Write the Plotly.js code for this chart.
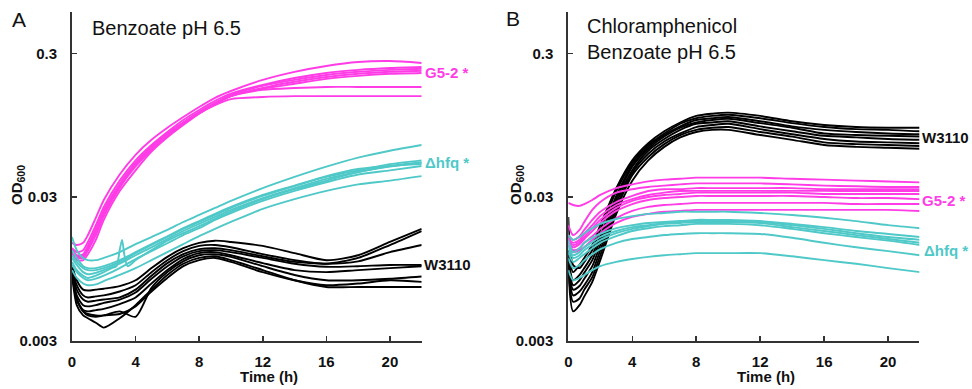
<!DOCTYPE html>
<html><head><meta charset="utf-8">
<script src="https://cdn.plot.ly/plotly-3.0.1.min.js"></script>
<style>html,body{margin:0;padding:0;background:#fff}#chart{width:972px;height:389px}</style>
</head><body><div id="chart"></div>
<script>
// Time points (h)
const timeH = [0, 0.3, 0.7, 1, 1.5, 2, 3, 4, 5, 6, 7, 8, 9, 10, 12, 14, 16, 18, 20, 22];
const timeSpike = [0, 0.3, 0.7, 1, 1.5, 2, 2.5, 2.8, 3.0, 3.15, 3.3, 3.5, 4, 5, 6, 7, 8, 9, 10, 12, 14, 16, 18, 20, 22];

// Panel A: Benzoate pH 6.5 — OD600
const A_G52 = [
  [0.0144, 0.0139, 0.0144, 0.0163, 0.0215, 0.0286, 0.043, 0.059, 0.075, 0.091, 0.108, 0.127, 0.147, 0.164, 0.196, 0.223, 0.245, 0.261, 0.265, 0.257],
  [0.0132, 0.0124, 0.0128, 0.0146, 0.0191, 0.0256, 0.039, 0.054, 0.069, 0.085, 0.103, 0.121, 0.140, 0.157, 0.181, 0.202, 0.219, 0.230, 0.237, 0.241],
  [0.0128, 0.0116, 0.0118, 0.0134, 0.0177, 0.0236, 0.036, 0.051, 0.067, 0.083, 0.099, 0.117, 0.135, 0.154, 0.178, 0.196, 0.212, 0.223, 0.230, 0.234],
  [0.0124, 0.0113, 0.0113, 0.0128, 0.0163, 0.0221, 0.035, 0.049, 0.064, 0.080, 0.097, 0.115, 0.133, 0.151, 0.172, 0.190, 0.205, 0.216, 0.223, 0.227],
  [0.0120, 0.0109, 0.0109, 0.0120, 0.0151, 0.0208, 0.033, 0.046, 0.062, 0.078, 0.095, 0.114, 0.133, 0.151, 0.170, 0.184, 0.199, 0.209, 0.216, 0.219],
  [0.0132, 0.0118, 0.0120, 0.0137, 0.0182, 0.0244, 0.037, 0.052, 0.067, 0.083, 0.099, 0.117, 0.135, 0.151, 0.167, 0.172, 0.175, 0.175, 0.175, 0.175],
  [0.0124, 0.0113, 0.0115, 0.0128, 0.0168, 0.0229, 0.035, 0.050, 0.065, 0.080, 0.097, 0.115, 0.131, 0.144, 0.149, 0.151, 0.151, 0.151, 0.151, 0.151]
];
const A_HFQ = [
  [0.0158, 0.0128, 0.0113, 0.0109, 0.0109, 0.0113, 0.0124, 0.0141, 0.0158, 0.0177, 0.0201, 0.0225, 0.0252, 0.0282, 0.0346, 0.0414, 0.0488, 0.0564, 0.063, 0.069],
  [0.0118, 0.0106, 0.0096, 0.0093, 0.0093, 0.0096, 0.0106, 0.0122, 0.0139, 0.0158, 0.0180, 0.0201, 0.0225, 0.0252, 0.0305, 0.0358, 0.0414, 0.046, 0.0508, 0.054],
  [0.0113, 0.0101, 0.0090, 0.0087, 0.0089, 0.0093, 0.0103, 0.0118, 0.0134, 0.0153, 0.0174, 0.0195, 0.0218, 0.0244, 0.0295, 0.0346, 0.0401, 0.0448, 0.0493, 0.0524],
  [0.0101, 0.0090, 0.0082, 0.0079, 0.0081, 0.0085, 0.0096, 0.0111, 0.0126, 0.0143, 0.0163, 0.0182, 0.0208, 0.0232, 0.0282, 0.0331, 0.0380, 0.043, 0.046, 0.0493],
  [0.0093, 0.0082, 0.0075, 0.0073, 0.0074, 0.0078, 0.0086, 0.0096, 0.0109, 0.0124, 0.0141, 0.0160, 0.0180, 0.0201, 0.0248, 0.029, 0.0331, 0.0367, 0.039, 0.0419],
  [0.0128, 0.0113, 0.0099, 0.0096, 0.0096, 0.0099, 0.0109, 0.0124, 0.0141, 0.0160, 0.0182, 0.0204, 0.0229, 0.0256, 0.031, 0.036, 0.0419, 0.047, 0.0493, 0.0508]
];
const A_HFQ_spike = [0.0106, 0.0093, 0.0085, 0.0082, 0.0085, 0.0090, 0.0096, 0.0099, 0.0128, 0.0151, 0.0118, 0.0099, 0.0109, 0.0128, 0.0149, 0.0168, 0.0188, 0.0211, 0.0237, 0.029, 0.034, 0.039, 0.0448, 0.0488, 0.052];
const A_W3110 = [
  [0.0101, 0.0079, 0.0068, 0.0067, 0.0068, 0.0069, 0.0072, 0.0079, 0.0096, 0.0115, 0.0132, 0.0144, 0.0149, 0.0146, 0.0137, 0.0122, 0.0109, 0.0118, 0.0146, 0.0180],
  [0.0096, 0.0073, 0.0062, 0.0060, 0.0061, 0.0062, 0.0066, 0.0073, 0.0090, 0.0109, 0.0126, 0.0137, 0.0139, 0.0134, 0.0120, 0.0109, 0.0103, 0.0113, 0.0139, 0.0174],
  [0.0093, 0.0068, 0.0058, 0.0056, 0.0057, 0.0058, 0.0060, 0.0068, 0.0085, 0.0104, 0.0120, 0.0130, 0.0132, 0.0128, 0.0116, 0.0106, 0.0103, 0.0107, 0.0124, 0.0139],
  [0.0090, 0.0062, 0.0053, 0.0052, 0.0053, 0.0055, 0.0058, 0.0065, 0.0081, 0.0099, 0.0116, 0.0126, 0.0128, 0.0124, 0.0113, 0.0103, 0.0098, 0.0099, 0.0101, 0.0101],
  [0.0086, 0.0058, 0.0049, 0.0048, 0.0049, 0.0050, 0.0054, 0.0060, 0.0075, 0.0093, 0.0111, 0.0122, 0.0124, 0.0118, 0.0104, 0.0093, 0.0090, 0.0093, 0.0096, 0.0099],
  [0.0093, 0.0058, 0.0048, 0.0046, 0.0045, 0.0045, 0.0048, 0.0044, 0.0070, 0.0090, 0.0107, 0.0118, 0.0120, 0.0115, 0.0099, 0.0086, 0.0079, 0.0079, 0.0081, 0.0084],
  [0.0086, 0.0053, 0.0045, 0.0043, 0.0040, 0.0037, 0.0043, 0.0053, 0.0068, 0.0086, 0.0103, 0.0113, 0.0116, 0.0109, 0.0093, 0.0079, 0.0071, 0.0071, 0.0071, 0.0071],
  [0.0093, 0.0059, 0.0048, 0.0045, 0.0044, 0.0045, 0.0046, 0.0052, 0.0066, 0.0082, 0.0099, 0.0109, 0.0113, 0.0106, 0.0090, 0.0079, 0.0073, 0.0075, 0.0079, 0.0077]
];

// Panel B: Chloramphenicol + Benzoate pH 6.5 — OD600
const B_W3110 = [
  [0.0128, 0.0090, 0.0101, 0.0113, 0.0139, 0.0191, 0.0346, 0.054, 0.071, 0.086, 0.099, 0.110, 0.114, 0.116, 0.110, 0.101, 0.095, 0.092, 0.091, 0.091],
  [0.0218, 0.0101, 0.0096, 0.0106, 0.0128, 0.0177, 0.033, 0.052, 0.069, 0.083, 0.097, 0.106, 0.110, 0.112, 0.106, 0.098, 0.092, 0.089, 0.088, 0.086],
  [0.0118, 0.0079, 0.0086, 0.0096, 0.0118, 0.0160, 0.0305, 0.050, 0.067, 0.081, 0.093, 0.103, 0.106, 0.108, 0.101, 0.093, 0.088, 0.085, 0.083, 0.082],
  [0.0113, 0.0073, 0.0079, 0.0089, 0.0109, 0.0151, 0.029, 0.0488, 0.065, 0.079, 0.091, 0.099, 0.103, 0.105, 0.098, 0.091, 0.083, 0.081, 0.080, 0.079],
  [0.0106, 0.0068, 0.0072, 0.0081, 0.0099, 0.0139, 0.0273, 0.046, 0.063, 0.076, 0.088, 0.097, 0.099, 0.101, 0.093, 0.086, 0.080, 0.078, 0.076, 0.075],
  [0.0101, 0.0062, 0.0066, 0.0073, 0.0090, 0.0128, 0.0256, 0.0443, 0.060, 0.073, 0.083, 0.092, 0.095, 0.097, 0.089, 0.082, 0.076, 0.073, 0.072, 0.071],
  [0.0093, 0.0056, 0.0059, 0.0068, 0.0083, 0.0118, 0.0244, 0.0425, 0.057, 0.070, 0.081, 0.088, 0.091, 0.092, 0.085, 0.079, 0.072, 0.070, 0.069, 0.068],
  [0.0090, 0.0048, 0.0053, 0.0061, 0.0077, 0.0109, 0.0229, 0.039, 0.054, 0.067, 0.078, 0.085, 0.088, 0.088, 0.081, 0.075, 0.069, 0.067, 0.066, 0.065]
];
const B_G52 = [
  [0.0273, 0.0264, 0.0260, 0.0268, 0.0286, 0.031, 0.0346, 0.0367, 0.0385, 0.0396, 0.0402, 0.0409, 0.0409, 0.0409, 0.0409, 0.0402, 0.0396, 0.039, 0.0385, 0.0379],
  [0.0191, 0.0163, 0.0177, 0.0201, 0.0244, 0.0277, 0.0322, 0.034, 0.0352, 0.036, 0.0367, 0.0373, 0.0373, 0.0373, 0.0373, 0.0367, 0.036, 0.0356, 0.0352, 0.0352],
  [0.0163, 0.0151, 0.0160, 0.0177, 0.0208, 0.0237, 0.0277, 0.0305, 0.033, 0.034, 0.034, 0.0346, 0.0346, 0.0346, 0.0346, 0.0346, 0.034, 0.034, 0.034, 0.034],
  [0.0156, 0.0144, 0.0151, 0.0166, 0.0191, 0.0221, 0.0264, 0.029, 0.031, 0.0322, 0.033, 0.0331, 0.0331, 0.0331, 0.0331, 0.0331, 0.0331, 0.033, 0.033, 0.033],
  [0.0151, 0.0139, 0.0146, 0.0158, 0.0182, 0.0208, 0.0252, 0.0282, 0.030, 0.031, 0.0315, 0.0322, 0.0322, 0.0322, 0.0322, 0.0322, 0.0315, 0.0315, 0.0315, 0.0315],
  [0.0146, 0.0134, 0.0141, 0.0153, 0.0174, 0.0198, 0.024, 0.0268, 0.0286, 0.0295, 0.030, 0.0305, 0.0305, 0.0305, 0.0305, 0.0305, 0.030, 0.0295, 0.0295, 0.029],
  [0.0141, 0.0128, 0.0132, 0.0144, 0.0160, 0.0180, 0.0214, 0.024, 0.0256, 0.0264, 0.0268, 0.0273, 0.0273, 0.0273, 0.0273, 0.0273, 0.0273, 0.0268, 0.0268, 0.0268],
  [0.0137, 0.0124, 0.0128, 0.0134, 0.0151, 0.0168, 0.0198, 0.0218, 0.0229, 0.0237, 0.024, 0.0244, 0.0244, 0.0244, 0.0244, 0.0244, 0.0244, 0.0244, 0.0244, 0.024]
];
const B_HFQ = [
  [0.0163, 0.0151, 0.0158, 0.0168, 0.0182, 0.0195, 0.0211, 0.0221, 0.0229, 0.0232, 0.0237, 0.0237, 0.0237, 0.0237, 0.0232, 0.0225, 0.0215, 0.0204, 0.0191, 0.0182],
  [0.0151, 0.0124, 0.0132, 0.0144, 0.0156, 0.0166, 0.0182, 0.0191, 0.0198, 0.0201, 0.0204, 0.0208, 0.0208, 0.0208, 0.0204, 0.0195, 0.0185, 0.0174, 0.0166, 0.0158],
  [0.0139, 0.0118, 0.0124, 0.0134, 0.0146, 0.0158, 0.0174, 0.0185, 0.0191, 0.0198, 0.0201, 0.0204, 0.0204, 0.0204, 0.0201, 0.0191, 0.0180, 0.0168, 0.0158, 0.0151],
  [0.0132, 0.0113, 0.0118, 0.0128, 0.0139, 0.0151, 0.0168, 0.0180, 0.0188, 0.0195, 0.0198, 0.0201, 0.0201, 0.0201, 0.0198, 0.0185, 0.0174, 0.0163, 0.0153, 0.0144],
  [0.0124, 0.0106, 0.0113, 0.0120, 0.0132, 0.0144, 0.0160, 0.0174, 0.0182, 0.0188, 0.0191, 0.0195, 0.0195, 0.0195, 0.0191, 0.0180, 0.0168, 0.0158, 0.0149, 0.0139],
  [0.0113, 0.0096, 0.0101, 0.0109, 0.0120, 0.0130, 0.0144, 0.0153, 0.0158, 0.0163, 0.0166, 0.0168, 0.0168, 0.0168, 0.0166, 0.0156, 0.0144, 0.0134, 0.0126, 0.0118],
  [0.0093, 0.0079, 0.0082, 0.0086, 0.0093, 0.0099, 0.0106, 0.0111, 0.0115, 0.0118, 0.0120, 0.0122, 0.0122, 0.0122, 0.0122, 0.0116, 0.0109, 0.0103, 0.0096, 0.0090]
];

const yTickVals = [0.003, 0.03, 0.3];
const yTickText = ['0.003', '0.03', '0.3'];
const xTickVals = [0, 4, 8, 12, 16, 20];

const COL_G52 = '#ff3ce6', COL_HFQ = '#4fc8c8', COL_WT = '#000000';
const FONT = 'Arial, "Liberation Sans", sans-serif';
const W = 972, H = 389;
const px = v => v / W, py = v => 1 - v / H;

const traces = [];
function addGroup(curves, times, color, xa, ya) {
  curves.forEach(c => traces.push({
    x: times, y: c, xaxis: xa, yaxis: ya, type: 'scatter', mode: 'lines',
    line: {color: color, width: 1.9, shape: 'spline', smoothing: 0.7},
    hoverinfo: 'skip', showlegend: false
  }));
}
addGroup(A_W3110, timeH, COL_WT, 'x', 'y');
addGroup(A_G52, timeH, COL_G52, 'x', 'y');
addGroup(A_HFQ, timeH, COL_HFQ, 'x', 'y');
addGroup([A_HFQ_spike], timeSpike, COL_HFQ, 'x', 'y');
addGroup(B_W3110, timeH, COL_WT, 'x2', 'y2');
addGroup(B_G52, timeH, COL_G52, 'x2', 'y2');
addGroup(B_HFQ, timeH, COL_HFQ, 'x2', 'y2');

const yDom = [py(340.7), py(12)];
const yRange = [Math.log10(0.003), Math.log10(0.3) + (53.3 - 12) / 143.7];
function xAx(dom, rng, anchor) {
  return {domain: dom, range: rng, anchor: anchor, tickvals: xTickVals,
    ticktext: xTickVals.map(v => '<b>' + v + '</b>'),
    ticks: 'inside', ticklen: 5, tickwidth: 1.5, tickcolor: '#333',
    showline: true, linecolor: '#333', linewidth: 2, showgrid: false, zeroline: false,
    tickfont: {family: FONT, size: 15, color: '#111'}, ticklabelstandoff: 6, fixedrange: true};
}
function yAx(anchor) {
  return {type: 'log', domain: yDom, range: yRange, anchor: anchor, tickvals: yTickVals,
    ticktext: yTickText.map(v => '<b>' + v + '</b>'),
    ticks: 'inside', ticklen: 5, tickwidth: 1.5, tickcolor: '#333',
    showline: true, linecolor: '#333', linewidth: 2, showgrid: false, zeroline: false,
    tickfont: {family: FONT, size: 15, color: '#111'}, ticklabelstandoff: 10, fixedrange: true};
}

function ann(text, x, y, opts) {
  return Object.assign({text: text, x: px(x), y: py(y), xref: 'paper', yref: 'paper',
    showarrow: false, xanchor: 'left', yanchor: 'middle',
    font: {family: FONT, size: 15, color: '#111'}}, opts || {});
}
const annotations = [
  ann('A', 10, 19, {font: {family: FONT, size: 21, color: '#111'}}),
  ann('B', 504, 18, {font: {family: FONT, size: 21, color: '#111'}}),
  ann('Benzoate pH 6.5', 90, 28, {font: {family: FONT, size: 20, color: '#111'}}),
  ann('Chloramphenicol<br>Benzoate pH 6.5', 585, 39.5, {font: {family: FONT, size: 20, color: '#111'}, align: 'left'}),
  ann('<b>OD<sub>600</sub></b>', 18, 185, {xanchor: 'center', textangle: -90}),
  ann('<b>OD<sub>600</sub></b>', 517, 185, {xanchor: 'center', textangle: -90}),
  ann('<b>Time (h)</b>', 269, 376, {xanchor: 'center'}),
  ann('<b>Time (h)</b>', 766, 376, {xanchor: 'center'}),
  ann('<b>G5-2 *</b>', 423, 72, {font: {family: FONT, size: 15, color: COL_G52}}),
  ann('<b>Δhfq *</b>', 423, 162, {font: {family: FONT, size: 15, color: COL_HFQ}}),
  ann('<b>W3110</b>', 422, 264, {font: {family: FONT, size: 15, color: '#111'}}),
  ann('<b>W3110</b>', 920, 137, {font: {family: FONT, size: 15, color: '#111'}}),
  ann('<b>G5-2 *</b>', 920, 200, {font: {family: FONT, size: 15, color: COL_G52}}),
  ann('<b>Δhfq *</b>', 922, 250, {font: {family: FONT, size: 15, color: COL_HFQ}})
];

const layout = {
  width: W, height: H, margin: {l: 0, r: 0, t: 0, b: 0},
  paper_bgcolor: '#fff', plot_bgcolor: 'rgba(0,0,0,0)', showlegend: false,
  xaxis: xAx([72 / W, 421.7 / W], [0, 22], 'y'),
  yaxis: yAx('x'),
  xaxis2: xAx([568.3 / W, 919.3 / W], [0, 21.95], 'y2'),
  yaxis2: yAx('x2'),
  annotations: annotations
};
Plotly.newPlot('chart', traces, layout, {staticPlot: true, displayModeBar: false});
</script></body></html>
